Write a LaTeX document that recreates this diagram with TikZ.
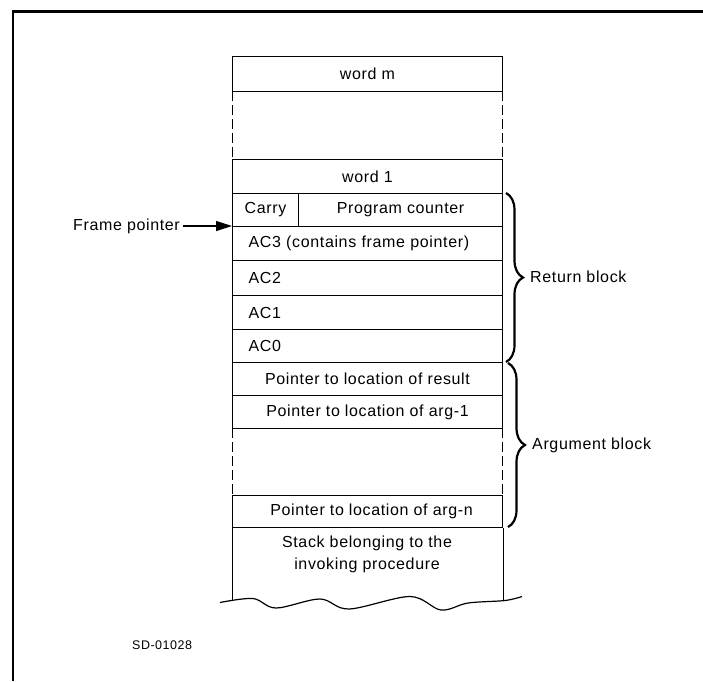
\documentclass[tikz,border=0pt]{standalone}
\usepackage{fontspec}
\setmainfont{Liberation Sans}[LetterSpace=4]
\usetikzlibrary{arrows.meta,decorations.pathreplacing}
\tikzset{
  lbl/.style={font=\fontsize{16}{22}\selectfont, inner sep=0pt},
  rowc/.style={draw, line width=1pt, anchor=north west, minimum width=270pt, inner sep=0pt, font=\fontsize{16}{22}\selectfont},
  rowl/.style={rowc, inner xsep=16pt, text width=238pt, align=left},
  side/.style={line width=1pt},
  dside/.style={line width=1pt, dash pattern=on 10pt off 4pt},
  brc/.style={decorate, decoration={brace, amplitude=17pt}, line width=2.2pt},
  frame/.style={line width=2.6pt}
}
\begin{document}
\begin{tikzpicture}[x=1pt,y=-1pt]
\useasboundingbox (0,0) rectangle (703,681);
\draw[frame] (13,681) -- (13,11.5) -- (703,11.5);
% rows
\node[rowc, minimum height=35pt] (wordm) at (232,56) {word m};
\draw[dside] (232,91) -- (232,159);
\draw[dside] (502,91) -- (502,159);
\node[rowc, minimum height=34pt] (word1) at (232,159) {word 1};
\node[rowc, minimum width=66pt, minimum height=33pt] (carry) at (232,193) {Carry};
\node[rowc, minimum width=204pt, minimum height=33pt] (pc) at (298,193) {Program counter};
\node[rowl, minimum height=34pt] (ac3) at (232,226) {AC3 (contains frame pointer)};
\node[rowl, minimum height=35pt] (ac2) at (232,260) {AC2};
\node[rowl, minimum height=34pt] (ac1) at (232,295) {AC1};
\node[rowl, minimum height=33pt] (ac0) at (232,329) {AC0};
\node[rowc, minimum height=33pt] (res) at (232,362) {Pointer to location of result};
\node[rowc, minimum height=33pt] (arg1) at (232,395) {Pointer to location of arg-1};
\draw[dside] (232,428) -- (232,495);
\draw[dside] (502,428) -- (502,495);
\node[rowc, minimum height=32pt] (argn) at (232,495) {\hspace*{8pt}Pointer to location of arg-n};
\node[lbl, align=center] (stack) at (367,554) {Stack belonging to the\\invoking procedure};
% stack sides and torn bottom
\coordinate (wl) at (232,601);
\coordinate (wr) at (503,600);
\draw[side] (argn.south west) -- (wl);
\draw[side] (argn.south east) -- (wr);
\draw[side, line width=1.2pt, line join=round] plot[smooth, tension=0.55] coordinates {(220,602.5) (253,598.5) (276,608) (320,599) (349,609) (410,596.5) (441,610) (468,603) (505,600.5) (522,596.5)};
% frame pointer
\node[lbl, anchor=east] (fp) at (180,226) {Frame pointer};
\draw[line width=1.1pt, -{Triangle[length=16pt,width=10pt]}] (fp.east) ++(3pt,0) -- (ac3.north west);
% braces
\draw[brc] (506,193) -- (506,362);
\draw[brc] (508,363) -- (508,527);
\node[lbl, anchor=west] (rb) at (530,277) {Return block};
\node[lbl, anchor=west] (ab) at (532,445) {Argument block};
% figure id
\node[font=\fontsize{12.5}{15}\selectfont, inner sep=0pt, anchor=west] (sd) at (132,645) {SD-01028};
\end{tikzpicture}
\end{document}
